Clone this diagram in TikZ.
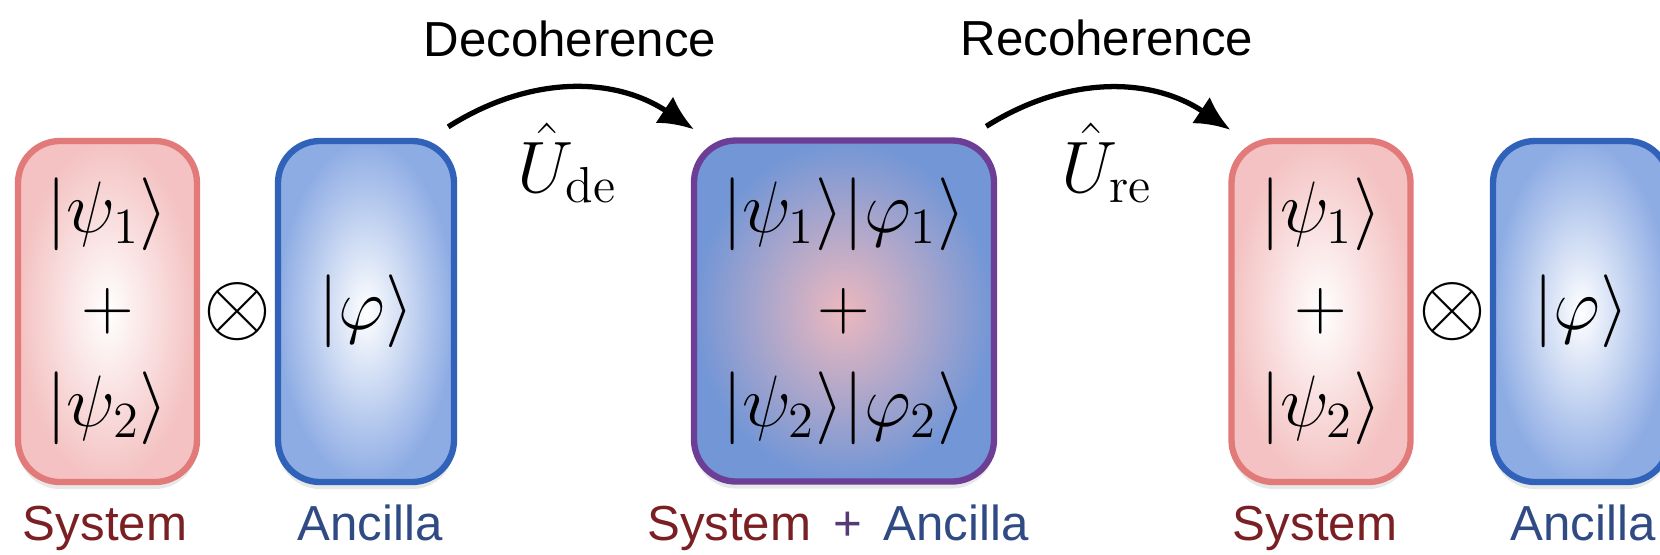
\documentclass[tikz,border=0pt]{standalone}
\usepackage{amsmath}
\usepackage[no-math]{fontspec}
\setmainfont{Liberation Sans}
\usetikzlibrary{arrows.meta,calc,positioning,shadows}

\definecolor{sysred}{RGB}{226,122,122}
\definecolor{sysfill}{RGB}{244,194,194}
\definecolor{ancblue}{RGB}{48,98,186}
\definecolor{ancfill}{RGB}{142,172,228}
\definecolor{midpurple}{RGB}{108,62,150}
\definecolor{midblue}{RGB}{114,150,214}
\definecolor{midpink}{RGB}{236,184,190}
\definecolor{systext}{RGB}{122,32,36}
\definecolor{anctext}{RGB}{48,74,132}
\definecolor{plustext}{RGB}{86,58,120}

\begin{document}
\begin{tikzpicture}[
  box/.style={rounded corners=0.42cm, line width=1.8pt, minimum height=3.41cm,
    align=center, font=\fontsize{21}{27.6}\selectfont,
    drop shadow={shadow xshift=0pt, shadow yshift=-2pt, opacity=0.18}},
  sysbox/.style={box, draw=sysred, inner color=white, outer color=sysfill, minimum width=1.79cm},
  ancbox/.style={box, draw=ancblue, inner color=white, outer color=ancfill, minimum width=1.76cm},
  midbox/.style={box, draw=midpurple, inner color=midpink, outer color=midblue, minimum width=3.0cm},
  lbl/.style={anchor=base, font=\fontsize{14}{16}\selectfont},
  op/.style={font=\fontsize{21}{24}\selectfont},
  arr/.style={line width=1.5pt, -{Latex[length=10pt,width=9pt]}, bend left=33}
]
\useasboundingbox (0,0) rectangle (16.6,-5.54);

\node[sysbox] (sysL) at (1.075,-3.115) {$|\psi_1\rangle$\\$+$\\$|\psi_2\rangle$};
\node[ancbox] (ancL) at (3.66,-3.115) {$|\varphi\rangle$};
\node[midbox] (mid) at (8.44,-3.11) {$|\psi_1\rangle|\varphi_1\rangle$\\$+$\\$|\psi_2\rangle|\varphi_2\rangle$};
\node[sysbox] (sysR) at (13.21,-3.115) {$|\psi_1\rangle$\\$+$\\$|\psi_2\rangle$};
\node[ancbox] (ancR) at (15.81,-3.115) {$|\varphi\rangle$};

\node[op, font=\fontsize{26}{28}\selectfont] (tensL) at (2.38,-3.12) {$\otimes$};
\node[op, font=\fontsize{26}{28}\selectfont] (tensR) at (14.52,-3.12) {$\otimes$};

\node[lbl, text=systext] (sysLlab) at (1.05,-5.40) {System};
\node[lbl, text=anctext] (ancLlab) at (3.70,-5.40) {Ancilla};
\node[lbl] (midlab) at (8.38,-5.40) {\textcolor{systext}{System}\ \,\textcolor{plustext}{+}\ \,\textcolor{anctext}{Ancilla}};
\node[lbl, text=systext] (sysRlab) at (13.15,-5.40) {System};
\node[lbl, text=anctext] (ancRlab) at (15.83,-5.40) {Ancilla};

\node[lbl] (decoh) at (5.70,-0.56) {Decoherence};
\node[lbl] (recoh) at (11.07,-0.55) {Recoherence};

\draw[arr] ([shift={(-0.09,0.11)}]ancL.north east) to ([shift={(0.03,0.08)}]mid.north west);
\draw[arr] ([shift={(-0.11,0.11)}]mid.north east) to ([shift={(0.02,0.08)}]sysR.north west);
\node[op, anchor=base] (ude) at (5.67,-1.92) {$\hat{U}_{\mathrm{de}}$};
\node[op, anchor=base] (ure) at (11.07,-1.92) {$\hat{U}_{\mathrm{re}}$};
\end{tikzpicture}
\end{document}
